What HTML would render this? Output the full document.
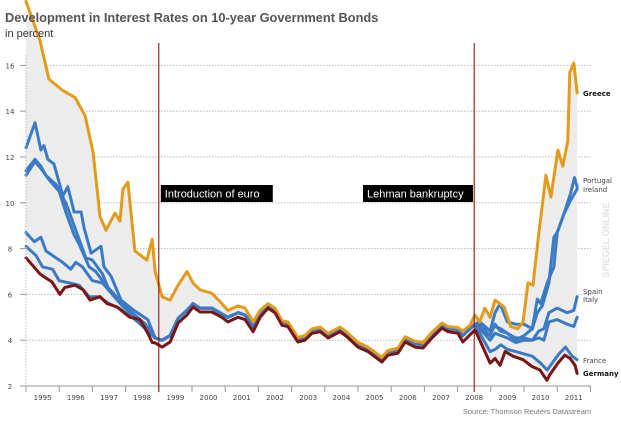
<!DOCTYPE html>
<html><head><meta charset="utf-8"><style>
body{margin:0;background:#fff;width:621px;height:423px;overflow:hidden;font-family:"Liberation Sans",sans-serif}
svg{display:block}
.tk{font-family:"DejaVu Sans","Liberation Sans",sans-serif}
</style></head><body>
<svg id="chart" width="621" height="423" xmlns="http://www.w3.org/2000/svg">
<g id="grid"></g>
<g id="fill"></g>
<g id="lines"></g>
<g id="axes"></g>
<text x="5" y="22" font-size="12.8" font-weight="bold" fill="#555">Development in Interest Rates on 10-year Government Bonds</text>
<text x="5" y="37" font-size="11" fill="#333">in percent</text>
<text x="527" y="414" font-size="7.5" fill="#777" text-anchor="middle">Source: Thomson Reuters Datastream</text>
<text x="609" y="240" font-size="9" font-weight="bold" fill="#e2e2e2" transform="rotate(-90 609 240)" text-anchor="middle">SPIEGEL ONLINE</text>
</svg>
<script>
const yTicks=[2,4,6,8,10,12,14,16];
const years=[1995,1996,1997,1998,1999,2000,2001,2002,2003,2004,2005,2006,2007,2008,2009,2010,2011];
const midDates=[1998.89,1999.1,1999.34,1999.58,1999.85,2000.03,2000.24,2000.6,2000.9,2001.08,2001.39,2001.6,2001.84,2002.05,2002.29,2002.5,2002.71,2002.89,2003.19,2003.4,2003.61,2003.86,2004.1,2004.46,2004.67,2005.0,2005.3,2005.72,2005.9,2006.2,2006.42,2006.72,2006.96,2007.23,2007.53,2007.71,2008.01,2008.16,2008.37,2008.52];
const blueMid=[4.1,4.0,4.2,4.95,5.3,5.6,5.4,5.4,5.15,5.0,5.2,5.1,4.6,5.15,5.55,5.35,4.8,4.75,4.05,4.15,4.45,4.5,4.25,4.5,4.3,3.85,3.65,3.2,3.5,3.55,4.05,3.85,3.8,4.25,4.65,4.5,4.45,4.2,4.5,4.7];
const germanyMid=[3.88,3.7,3.92,4.75,5.1,5.45,5.23,5.23,5.0,4.8,5.0,4.9,4.37,5.0,5.4,5.2,4.65,4.6,3.92,4.0,4.3,4.37,4.1,4.37,4.15,3.7,3.5,3.05,3.35,3.43,3.92,3.7,3.66,4.1,4.53,4.37,4.3,3.92,4.23,4.45];
const greeceMid=[7.0,5.9,5.75,6.4,7.0,6.5,6.2,6.05,5.6,5.3,5.5,5.4,4.8,5.3,5.6,5.4,4.85,4.8,4.12,4.2,4.5,4.57,4.3,4.57,4.35,3.9,3.7,3.25,3.55,3.65,4.15,3.95,3.9,4.35,4.75,4.6,4.55,4.4,4.65,5.1];

const greeceEarlyDates=[1995.0,1995.42,1995.69,1996.11,1996.48,1996.78,1997.02,1997.23,1997.41,1997.68,1997.83,1997.92,1998.07,1998.28,1998.64,1998.8];
const greeceEarly=[18.8,17.1,15.4,14.9,14.6,13.8,12.2,9.4,8.8,9.55,9.2,10.6,10.9,7.9,7.5,8.4];
const greeceLateDates=[2008.67,2008.82,2008.98,2009.13,2009.4,2009.6,2009.81,2009.97,2010.12,2010.27,2010.36,2010.45,2010.57,2010.66,2010.81,2011.02,2011.17,2011.32,2011.38,2011.5,2011.6];
const greeceLate=[4.8,5.4,5.0,5.75,5.45,4.6,4.5,4.8,6.5,6.4,7.6,8.7,10.1,11.2,10.25,12.3,11.6,12.7,15.7,16.1,14.8];

const portugalEarlyDates=[1995.0,1995.27,1995.45,1995.54,1995.66,1995.84,1996.11,1996.26,1996.45,1996.66,1996.75,1996.96,1997.26,1997.35,1997.56,1997.86,1998.25,1998.67];
const portugalEarly=[12.4,13.5,12.3,12.5,11.9,11.7,10.3,10.7,9.6,9.6,8.9,7.8,8.1,7.2,6.8,5.75,5.3,4.9];
const portugalLateDates=[2008.67,2008.98,2009.13,2009.28,2009.5,2009.75,2010.0,2010.25,2010.4,2010.5,2010.7,2010.9,2011.0,2011.2,2011.4,2011.52,2011.6];
const portugalLate=[4.6,4.2,4.7,4.4,4.3,4.0,4.2,4.5,5.8,5.6,6.5,7.2,8.7,9.5,10.4,11.1,10.7];

const italyEarlyDates=[1995.0,1995.27,1995.45,1995.6,1995.9,1996.2,1996.4,1996.55,1996.8,1997.0,1997.3,1997.5,1997.8,1998.2,1998.6];
const italyEarly=[11.4,11.9,11.6,11.2,10.8,10.0,9.2,8.6,7.6,7.5,6.9,6.2,5.7,5.2,4.7];
const italyLateDates=[2008.67,2008.98,2009.13,2009.3,2009.5,2009.75,2010.0,2010.25,2010.45,2010.6,2010.75,2011.0,2011.3,2011.5,2011.6];
const italyLate=[4.7,4.4,4.6,4.5,4.3,4.1,4.1,4.0,4.1,4.0,4.8,4.9,4.7,4.6,5.0];

const spainEarlyDates=[1995.0,1995.27,1995.45,1995.7,1996.0,1996.2,1996.45,1996.6,1996.9,1997.1,1997.35,1997.6,1997.9,1998.2,1998.6];
const spainEarly=[11.2,11.8,11.5,11.0,10.5,9.6,8.6,8.2,7.2,7.0,6.5,6.1,5.6,5.1,4.6];
const spainLateDates=[2008.67,2008.98,2009.13,2009.3,2009.5,2009.75,2010.0,2010.25,2010.45,2010.6,2010.75,2011.0,2011.3,2011.5,2011.6];
const spainLate=[4.5,4.0,4.3,4.2,4.1,3.9,4.0,4.0,4.4,4.5,5.2,5.4,5.2,5.3,5.9];

const irelandEarlyDates=[1995.0,1995.25,1995.45,1995.6,1995.9,1996.1,1996.35,1996.5,1996.7,1997.0,1997.3,1997.6,1997.9,1998.3,1998.6];
const irelandEarly=[8.7,8.3,8.5,7.9,7.6,7.4,7.1,7.4,7.2,6.6,6.5,6.0,5.5,5.0,4.6];
const irelandLateDates=[2008.67,2008.98,2009.13,2009.28,2009.5,2009.75,2010.0,2010.25,2010.4,2010.55,2010.75,2010.9,2011.0,2011.2,2011.4,2011.6];
const irelandLate=[4.8,4.4,5.2,5.6,4.8,4.7,4.7,4.5,5.2,5.5,6.5,8.5,8.7,9.5,10.1,10.6];

const franceEarlyDates=[1995.0,1995.3,1995.5,1995.8,1996.0,1996.3,1996.6,1996.9,1997.2,1997.5,1997.8,1998.2,1998.6];
const franceEarly=[8.1,7.7,7.2,7.1,6.6,6.5,6.4,5.9,5.9,5.6,5.4,5.0,4.5];
const franceLateDates=[2008.67,2008.98,2009.13,2009.3,2009.5,2009.75,2010.0,2010.25,2010.5,2010.7,2010.85,2011.05,2011.25,2011.45,2011.6];
const franceLate=[4.3,3.5,3.6,3.8,3.6,3.5,3.4,3.3,3.0,2.7,3.0,3.4,3.7,3.3,3.15];

const germanyEarlyDates=[1995.0,1995.42,1995.51,1995.78,1996.02,1996.17,1996.48,1996.72,1996.93,1997.23,1997.44,1997.74,1998.13,1998.43,1998.67,1998.8];
const germanyEarly=[7.6,6.9,6.8,6.55,6.0,6.3,6.4,6.2,5.75,5.9,5.6,5.45,5.0,4.9,4.3,3.9];
const germanyLateDates=[2008.67,2008.98,2009.13,2009.28,2009.43,2009.67,2009.97,2010.24,2010.48,2010.69,2010.78,2011.02,2011.23,2011.39,2011.54,2011.6];
const germanyLate=[4.0,3.0,3.2,2.9,3.5,3.3,3.15,2.85,2.7,2.25,2.5,3.0,3.35,3.2,2.9,2.55];

const euroDate=1999.0, lehmanDate=2008.5;

const NS="http://www.w3.org/2000/svg";
const X0=26,YW=33.2;
function x(t){return X0+(t-1995)*YW;}
function y(v){return 386-(v-2)*22.9;}
function mk(tag,attrs,parent){const e=document.createElementNS(NS,tag);for(const k in attrs)e.setAttribute(k,attrs[k]);parent.appendChild(e);return e;}
const chartEl=document.getElementById('chart');
const grid=document.getElementById('grid'),axes=document.getElementById('axes'),linesG=document.getElementById('lines'),fillG=document.getElementById('fill');

yTicks.forEach(v=>{
  if(v>2){const l=mk('line',{x1:X0,x2:591,y1:y(v),y2:y(v),stroke:'#b8b8b8','stroke-dasharray':'1.5,1.5','stroke-width':1},grid);
  
  }
  const tk=mk('line',{x1:X0-6,x2:X0,y1:y(v),y2:y(v),stroke:'#999'},axes);
  
  
  const t=mk('text',{x:10,y:y(v)+3,'font-size':7,fill:'#444','text-anchor':'middle','class':'tk'},axes);
  t.textContent=v;
  
  
});
const la=mk('line',{x1:X0,x2:X0,y1:55,y2:386,stroke:'#bbb','stroke-dasharray':'1.5,1.5'},axes);


const ba=mk('line',{x1:X0-4,x2:591,y1:386,y2:386,stroke:'#999'},axes);


years.forEach(yr=>{
  const tk=mk('line',{x1:x(yr),x2:x(yr),y1:386,y2:392,stroke:'#999'},axes);
  
  
  const t=mk('text',{x:x(yr+0.5),y:400,'font-size':7,fill:'#444','text-anchor':'middle','class':'tk'},axes);
  t.textContent=yr;
  
  
});
const et=mk('line',{x1:x(2012),x2:x(2012),y1:386,y2:392,stroke:'#999'},axes);



function series(ed,ev,md,mv,ld,lv){const last=ed[ed.length-1];return {d:ed.concat(md.filter(t=>t>last)).concat(ld),v:ev.concat(mv.filter((_,i)=>md[i]>last)).concat(lv)};}
const S={
 greece:series(greeceEarlyDates,greeceEarly,midDates,greeceMid,greeceLateDates,greeceLate),
 portugal:series(portugalEarlyDates,portugalEarly,midDates,blueMid,portugalLateDates,portugalLate),
 italy:series(italyEarlyDates,italyEarly,midDates,blueMid,italyLateDates,italyLate),
 spain:series(spainEarlyDates,spainEarly,midDates,blueMid,spainLateDates,spainLate),
 ireland:series(irelandEarlyDates,irelandEarly,midDates,blueMid,irelandLateDates,irelandLate),
 france:series(franceEarlyDates,franceEarly,midDates,blueMid,franceLateDates,franceLate),
 germany:series(germanyEarlyDates,germanyEarly,midDates,germanyMid,germanyLateDates,germanyLate)
};
function interp(s,t){const d=s.d;if(t<=d[0])return s.v[0];for(let i=1;i<d.length;i++){if(t<=d[i]){const f=(t-d[i-1])/(d[i]-d[i-1]);return s.v[i-1]+f*(s.v[i]-s.v[i-1]);}}return s.v[s.v.length-1];}
const keys=Object.keys(S);
const topEdge=[],botEdge=[];
for(let t=1995;t<=2011.6001;t+=0.02){const vals=keys.map(k=>interp(S[k],t));topEdge.push([x(t),y(Math.max(...vals))]);botEdge.push([x(t),y(Math.min(...vals))]);}
const area=mk('polygon',{points:topEdge.concat(botEdge.reverse()).map(p=>p[0].toFixed(1)+','+p[1].toFixed(1)).join(' '),fill:'#ececec'},fillG);



const colors={greece:'#e39b1b',portugal:'#3b7bc4',italy:'#3b7bc4',spain:'#3b7bc4',ireland:'#3b7bc4',france:'#3b7bc4',germany:'#7a1515'};
['france','ireland','spain','italy','portugal','greece','germany'].forEach(k=>{
  const s=S[k];
  const p=mk('polyline',{points:s.d.map((t,i)=>x(t).toFixed(1)+','+y(s.v[i]).toFixed(1)).join(' '),fill:'none',stroke:colors[k],'stroke-width':3,'stroke-linejoin':'round','stroke-linecap':'round'},linesG);
  
  
});

[[euroDate,'euro-line'],[lehmanDate,'lehman-line']].forEach(a=>{
  const l=mk('line',{x1:x(a[0]),x2:x(a[0]),y1:43,y2:392,stroke:'#8b0000','stroke-width':1},chartEl);
  
  
});
function box(bx,w,label,name){
  const g=mk('g',{},chartEl);
  
  
  mk('rect',{x:bx,y:185,width:w,height:17,fill:'#000'},g);
  const t=mk('text',{x:bx+4,y:197.5,'font-size':11,fill:'#fff'},g);t.textContent=label;
}
box(x(euroDate)+2,112,'Introduction of euro','euro-annotation');
box(363,110,'Lehman bankruptcy','lehman-annotation');

const labels=[['Greece',96,true,'label-greece'],['Portugal',183,false,'label-portugal'],['Ireland',192,false,'label-ireland'],['Spain',294,false,'label-spain'],['Italy',302,false,'label-italy'],['France',363,false,'label-france'],['Germany',376,true,'label-germany']];
labels.forEach(l=>{
  const t=mk('text',{x:583,y:l[1],'font-size':7,fill:l[2]?'#111':'#444','font-weight':l[2]?'bold':'normal','class':'tk'},chartEl);
  t.textContent=l[0];
  
  
});
</script>
</body></html>
